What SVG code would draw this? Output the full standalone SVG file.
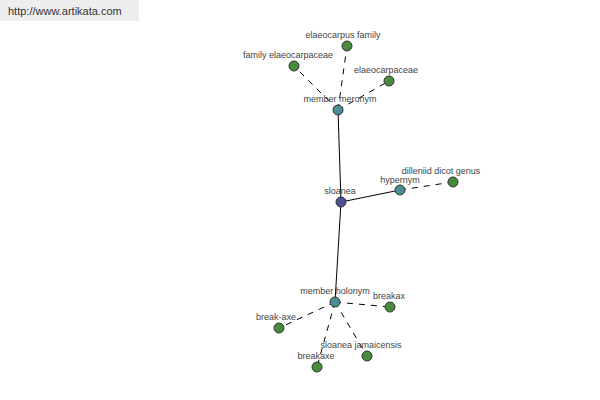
<svg xmlns="http://www.w3.org/2000/svg" width="600" height="400" viewBox="0 0 600 400">
<style>
text{font-family:"Liberation Sans",Arial,sans-serif;font-size:9px;fill:#444;text-anchor:middle}
.solid{stroke:#000;stroke-width:1;fill:none}
.dash{stroke:#000;stroke-width:1;fill:none;stroke-dasharray:6,6}
circle{stroke:#333;stroke-width:1}
.main{fill:#4a4f96}
.rel{fill:#4a8f95}
.leaf{fill:#4a8a3e}
</style>
<rect x="0" y="0" width="139" height="21" fill="#eeeeee"/>
<text x="8" y="15" style="text-anchor:start;font-size:11px;fill:#333">http://www.artikata.com</text>
<g id="connectors">
<line class="solid" x1="341" y1="202" x2="338" y2="110"/>
<line class="solid" x1="341" y1="202" x2="400" y2="190"/>
<line class="solid" x1="341" y1="202" x2="335" y2="302"/>
<line class="dash" x1="338" y1="110" x2="347" y2="46"/>
<line class="dash" x1="338" y1="110" x2="294" y2="66"/>
<line class="dash" x1="338" y1="110" x2="389" y2="81"/>
<line class="dash" x1="400" y1="190" x2="453" y2="182"/>
<line class="dash" x1="335" y1="302" x2="390" y2="307"/>
<line class="dash" x1="335" y1="302" x2="279" y2="328"/>
<line class="dash" x1="335" y1="302" x2="367" y2="356"/>
<line class="dash" x1="335" y1="302" x2="317" y2="367"/>
</g>
<g id="n-elaeocarpus-family"><circle class="leaf" cx="347" cy="46" r="5"/><text x="343" y="38">elaeocarpus family</text></g>
<g id="n-family-elaeocarpaceae"><circle class="leaf" cx="294" cy="66" r="5"/><text x="288" y="58">family elaeocarpaceae</text></g>
<g id="n-elaeocarpaceae"><circle class="leaf" cx="389" cy="81" r="5"/><text x="386" y="73">elaeocarpaceae</text></g>
<g id="n-member-meronym"><circle class="rel" cx="338" cy="110" r="5"/><text x="340" y="102">member meronym</text></g>
<g id="n-sloanea"><circle class="main" cx="341" cy="202" r="5"/><text x="340" y="194">sloanea</text></g>
<g id="n-hypernym"><circle class="rel" cx="400" cy="190" r="5"/><text x="400" y="183">hypernym</text></g>
<g id="n-dilleniid-dicot-genus"><circle class="leaf" cx="453" cy="182" r="5"/><text x="441" y="174">dilleniid dicot genus</text></g>
<g id="n-member-holonym"><circle class="rel" cx="335" cy="302" r="5"/><text x="335" y="294">member holonym</text></g>
<g id="n-breakax"><circle class="leaf" cx="390" cy="307" r="5"/><text x="389" y="299">breakax</text></g>
<g id="n-break-axe"><circle class="leaf" cx="279" cy="328" r="5"/><text x="276" y="320">break-axe</text></g>
<g id="n-sloanea-jamaicensis"><circle class="leaf" cx="367" cy="356" r="5"/><text x="361" y="348">sloanea jamaicensis</text></g>
<g id="n-breakaxe"><circle class="leaf" cx="317" cy="367" r="5"/><text x="316" y="359">breakaxe</text></g>
</svg>
